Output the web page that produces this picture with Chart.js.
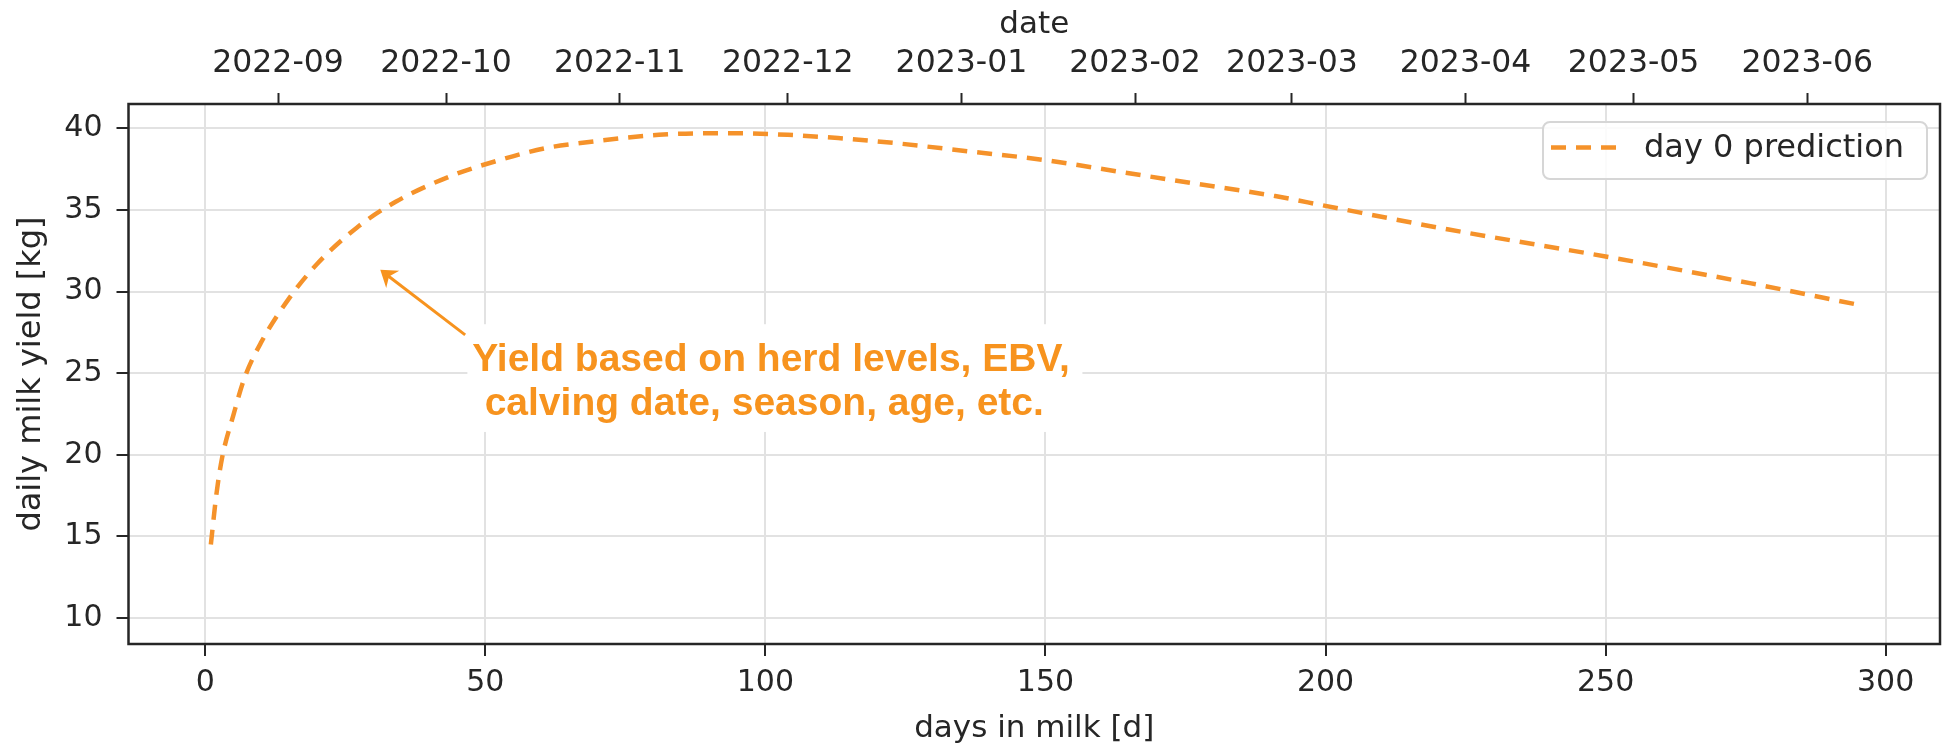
<!DOCTYPE html>
<html>
<head>
<meta charset="utf-8">
<title>Daily milk yield prediction</title>
<script src="https://cdn.jsdelivr.net/npm/chart.js@4.4.0/dist/chart.umd.min.js"></script>
<style>
    html, body { margin: 0; padding: 0; background: #fff; }
    #wrap { width: 1959px; height: 752px; }
</style>
</head>
<body>
<div id="wrap"><canvas id="yield-chart" width="1959" height="752"></canvas></div>
<script>
// ── Data ──────────────────────────────────────────────────
const daysInMilk = [1, 2, 3, 5, 7, 10, 15, 20, 27, 34, 44, 52, 61, 67, 81, 90, 95,
                    104, 113, 123, 136, 150, 163, 177, 191, 200, 222, 250, 276, 295];
const dailyYield = [14.5, 17.6, 19.8, 22.4, 24.7, 26.9, 29.6, 31.7, 33.9, 35.5, 37.1, 38.0, 38.8, 39.1, 39.6, 39.7, 39.7,
                    39.6, 39.4, 39.1, 38.6, 38.05, 37.35, 36.6, 35.85, 35.25, 33.8, 32.15, 30.5, 29.2];
const dimTicks    = [0, 50, 100, 150, 200, 250, 300];
const yieldTicks  = [10, 15, 20, 25, 30, 35, 40];
const monthLabels = ['2022-09', '2022-10', '2022-11', '2022-12', '2023-01',
                     '2023-02', '2023-03', '2023-04', '2023-05', '2023-06'];
const calvingDate = '2022-08-19';
const seriesLabel = 'day 0 prediction';
const noteLines   = ['Yield based on herd levels, EBV,', 'calving date, season, age, etc.'];

// ── Colours ───────────────────────────────────────────────
const ORANGE = '#f5922a';
const NOTE   = '#f7931e';
const AXIS   = '#262626';
const GRID   = '#e2e2e2';

Chart.defaults.font.family = "'DejaVu Sans', sans-serif";
Chart.defaults.color = AXIS;

// days between calving and the first of a month label
function dayOffset(label) {
    const ms = Date.parse(label + '-01T00:00:00Z') - Date.parse(calvingDate + 'T00:00:00Z');
    return ms / 86400000;
}

// ── Annotation: white box, text and arrow (data coords) ───
const notePlugin = {
    id: 'note',
    afterDatasetsDraw(chart) {
        const { ctx, scales: { x, y } } = chart;
        ctx.save();

        const bx0 = x.getPixelForValue(46.8), bx1 = x.getPixelForValue(156.6);
        const by0 = y.getPixelForValue(28.0), by1 = y.getPixelForValue(21.4);
        ctx.fillStyle = '#fff';
        ctx.fillRect(bx0, by0, bx1 - bx0, by1 - by0);

        ctx.fillStyle = NOTE;
        ctx.font = "bold 39px 'Liberation Sans', Arial, sans-serif";
        ctx.textAlign = 'center';
        ctx.textBaseline = 'middle';
        ctx.fillText(noteLines[0], x.getPixelForValue(101.0), y.getPixelForValue(25.82));
        ctx.fillText(noteLines[1], x.getPixelForValue(99.8), y.getPixelForValue(23.08));

        // arrow
        const tx = x.getPixelForValue(46.4), ty = y.getPixelForValue(27.35);
        const hx = x.getPixelForValue(31.25), hy = y.getPixelForValue(31.33);
        const ang = Math.atan2(ty - hy, tx - hx);
        ctx.strokeStyle = NOTE;
        ctx.lineWidth = 3;
        ctx.beginPath();
        ctx.moveTo(tx, ty);
        ctx.lineTo(hx + Math.cos(ang) * 8, hy + Math.sin(ang) * 8);
        ctx.stroke();

        const len = 19, spread = 0.6;
        ctx.beginPath();
        ctx.moveTo(hx, hy);
        ctx.lineTo(hx + Math.cos(ang + spread) * len, hy + Math.sin(ang + spread) * len);
        ctx.lineTo(hx + Math.cos(ang) * 11, hy + Math.sin(ang) * 11);
        ctx.lineTo(hx + Math.cos(ang - spread) * len, hy + Math.sin(ang - spread) * len);
        ctx.closePath();
        ctx.fill();
        ctx.restore();
    }
};

// ── Frame round the plot area ─────────────────────────────
const framePlugin = {
    id: 'frame',
    afterDraw(chart) {
        const { ctx, chartArea: a } = chart;
        ctx.save();
        ctx.strokeStyle = AXIS;
        ctx.lineWidth = 2.5;
        ctx.strokeRect(a.left, a.top, a.right - a.left, a.bottom - a.top);
        ctx.restore();
    }
};

// ── Legend box in the upper right corner ─────────────────
const legendPlugin = {
    id: 'boxLegend',
    afterDraw(chart) {
        const { ctx, chartArea: a } = chart;
        const ds = chart.data.datasets[0];
        const w = 384, h = 57;
        const lx = a.right - 13 - w, ly = a.top + 18;
        ctx.save();
        ctx.beginPath();
        ctx.roundRect(lx, ly, w, h, 7);
        ctx.fillStyle = 'rgba(255,255,255,0.85)';
        ctx.fill();
        ctx.strokeStyle = '#d6d6d6';
        ctx.lineWidth = 2;
        ctx.stroke();

        ctx.beginPath();
        ctx.setLineDash(ds.borderDash);
        ctx.strokeStyle = ds.borderColor;
        ctx.lineWidth = ds.borderWidth;
        ctx.moveTo(lx + 8, ly + h / 2 - 3);
        ctx.lineTo(lx + 77, ly + h / 2 - 3);
        ctx.stroke();
        ctx.setLineDash([]);

        ctx.fillStyle = AXIS;
        ctx.font = "32px 'DejaVu Sans', sans-serif";
        ctx.textBaseline = 'middle';
        ctx.fillText(ds.label, lx + 101, ly + h / 2 - 2);
        ctx.restore();
    }
};

// ── Chart ────────────────────────────────────────────────
const yieldChart = new Chart(document.getElementById('yield-chart'), {
    type: 'line',
    data: {
        datasets: [{
            label: seriesLabel,
            data: daysInMilk.map((d, i) => ({ x: d, y: dailyYield[i] })),
            borderColor: ORANGE,
            borderWidth: 4.5,
            borderDash: [15, 10],
            borderCapStyle: 'butt',
            pointRadius: 0,
            cubicInterpolationMode: 'monotone',
            fill: false,
            xAxisID: 'x',
            yAxisID: 'y',
        }]
    },
    options: {
        responsive: false,
        animation: false,
        layout: { padding: { left: 0, right: 19, top: 0, bottom: 0 } },
        plugins: {
            legend: { display: false },
            tooltip: { enabled: false }
        },
        scales: {
            x: {
                type: 'linear',
                position: 'bottom',
                min: -13.7,
                max: 309.7,
                afterBuildTicks: s => { s.ticks = dimTicks.map(v => ({ value: v })); },
                afterFit: s => { s.height = 108; },
                grid: { color: GRID, lineWidth: 2, tickColor: AXIS, tickWidth: 2, tickLength: 12 },
                border: { display: false },
                ticks: { font: { size: 30 }, color: AXIS, padding: 9, maxRotation: 0, autoSkip: false },
                title: { display: true, text: 'days in milk [d]', font: { size: 31 }, color: AXIS, padding: { top: 0, bottom: 4 } }
            },
            x2: {
                type: 'linear',
                position: 'top',
                min: -13.7,
                max: 309.7,
                afterBuildTicks: s => { s.ticks = monthLabels.map(m => ({ value: dayOffset(m) })); },
                afterFit: s => { s.height = 104; },
                grid: { drawOnChartArea: false, tickColor: AXIS, tickWidth: 2, tickLength: 11 },
                border: { display: false },
                ticks: {
                    font: { size: 31.5 }, color: AXIS, padding: 10, maxRotation: 0, autoSkip: false,
                    callback: (v, i) => monthLabels[i]
                },
                title: { display: true, text: 'date', font: { size: 31 }, color: AXIS, padding: { top: 6, bottom: 0 } }
            },
            y: {
                type: 'linear',
                min: 8.41,
                max: 41.49,
                afterBuildTicks: s => { s.ticks = yieldTicks.map(v => ({ value: v })); },
                afterFit: s => { s.width = 128.5; },
                grid: { color: GRID, lineWidth: 2, tickColor: AXIS, tickWidth: 2, tickLength: 12 },
                border: { display: false },
                ticks: { font: { size: 30 }, color: AXIS, padding: 14 },
                title: { display: true, text: 'daily milk yield [kg]', font: { size: 32 }, color: AXIS, padding: { top: 12, bottom: 0 } }
            }
        }
    },
    plugins: [notePlugin, framePlugin, legendPlugin]
});
</script>
</body>
</html>
